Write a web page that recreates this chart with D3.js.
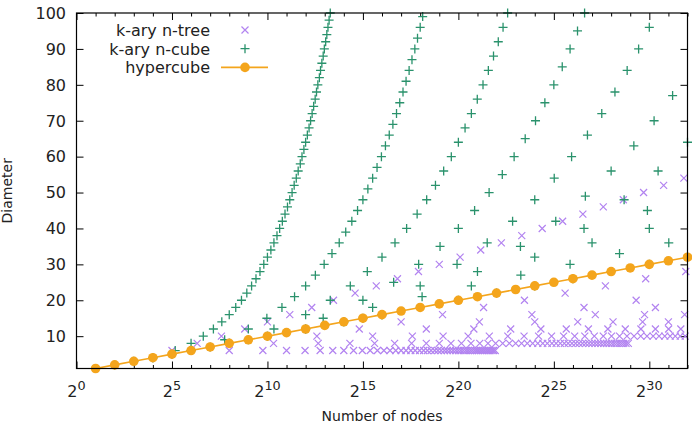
<!DOCTYPE html>
<html>
<head>
<meta charset="utf-8">
<script src="https://cdn.jsdelivr.net/npm/d3@7"></script>
<style>
  body { margin: 0; background: #fff; }
  text { font-family: "DejaVu Sans", sans-serif; fill: #222; }
</style>
</head>
<body>
<div id="canvas"></div>
<script>
// Axis ticks (x values are log2 of the node count).
const xTickExponents = [0, 5, 10, 15, 20, 25, 30];
const xMinorExponents = d3.range(0, 33);
const yTicks = [10, 20, 30, 40, 50, 60, 70, 80, 90, 100];

// k-ary n-tree: one diameter per row, log2(nodes) of every point in that row.
const treeDiameters = [6, 8, 10, 12, 14, 16, 18, 20, 22, 24, 26, 28, 30, 32, 34, 36, 38, 40, 42, 44, 46, 48, 50, 52, 54];
const treeLog2Nodes = [
  [5, 8, 9.76, 11, 11.97, 12.76, 13.42, 14, 14.51, 14.97, 15.38, 15.76, 16.10, 16.42, 16.72, 17, 17.26, 17.51, 17.74, 17.97,
   18.18, 18.38, 18.57, 18.76, 18.93, 19.10, 19.27, 19.42, 19.57, 19.72, 19.86, 20, 20.13, 20.26, 20.39, 20.51, 20.63, 20.74,
   20.86, 20.97, 21.07, 21.18, 21.28, 21.38, 21.48, 21.57, 21.66, 21.76, 21.84, 21.93],
  [6.32, 10.32, 12.66, 14.32, 15.61, 16.66, 17.55, 18.32, 19.00, 19.61, 20.16, 20.66, 21.12, 21.55, 21.95, 22.32, 22.67, 23.00,
   23.31, 23.61, 23.89, 24.16, 24.42, 24.66, 24.90, 25.12, 25.34, 25.55, 25.75, 25.95, 26.14, 26.32, 26.50, 26.67, 26.84, 27.00,
   27.16, 27.31, 27.46, 27.61, 27.75, 27.89, 28.03, 28.16, 28.29, 28.42, 28.54, 28.66, 28.78, 28.90],
  [7.59, 12.59, 15.51, 17.59, 19.20, 20.51, 21.62, 22.59, 23.44, 24.20, 24.88, 25.51, 26.09, 26.62, 27.12, 27.59, 28.02, 28.44,
   28.83, 29.20, 29.55, 29.88, 30.20, 30.51, 30.81, 31.09, 31.36, 31.62, 31.88],
  [8.81, 14.81, 18.32, 20.81, 22.74, 24.32, 25.65, 26.81, 27.83, 28.74, 29.56, 30.32, 31.01, 31.65],
  [10, 17, 21.10, 24, 26.25, 28.10, 29.65, 31],
  [11.17, 19.17, 23.85, 27.17, 29.75, 31.85],
  [12.32, 21.32, 26.58, 30.32],
  [13.46, 23.46, 29.31],
  [14.59, 25.59],
  [15.70, 27.70],
  [16.81, 29.81],
  [17.91, 31.91],
  [19], [20.09], [21.17], [22.25], [23.32], [24.39], [25.46], [26.52], [27.59], [28.64], [29.70], [30.75], [31.81]
];

// k-ary n-cube: one row per dimension, log2(nodes) and diameter of every point.
const cubeLog2Nodes = [
  [2, 4, 5.17, 6, 6.64, 7.17, 7.61, 8, 8.34, 8.64, 8.92, 9.17, 9.40, 9.61, 9.81, 10, 10.18, 10.34, 10.50, 10.64, 10.78, 10.92,
   11.05, 11.17, 11.29, 11.40, 11.51, 11.61, 11.72, 11.81, 11.91, 12, 12.09, 12.18, 12.26, 12.34, 12.42, 12.50, 12.57, 12.64,
   12.72, 12.78, 12.85, 12.92, 12.98, 13.05, 13.11, 13.17, 13.23, 13.29],
  [3, 6, 7.76, 9, 9.97, 10.76, 11.42, 12, 12.51, 12.97, 13.38, 13.76, 14.10, 14.42, 14.72, 15, 15.26, 15.51, 15.74, 15.97,
   16.18, 16.38, 16.57, 16.76, 16.93, 17.10, 17.26, 17.42, 17.57, 17.72, 17.86, 18, 18.13],
  [4, 8, 10.34, 12, 13.29, 14.34, 15.23, 16, 16.68, 17.29, 17.84, 18.34, 18.80, 19.23, 19.63, 20, 20.35, 20.68, 20.99, 21.29,
   21.57, 21.84, 22.09, 22.34, 22.58],
  [5, 10, 12.92, 15, 16.61, 17.92, 19.04, 20, 20.85, 21.61, 22.30, 22.92, 23.50, 24.04, 24.53, 25, 25.44, 25.85, 26.24, 26.61],
  [6, 12, 15.51, 18, 19.93, 21.51, 22.84, 24, 25.02, 25.93, 26.76, 27.51, 28.20, 28.84, 29.44, 30],
  [7, 14, 18.10, 21, 23.25, 25.10, 26.65, 28, 29.19, 30.25, 31.22],
  [8, 16, 20.68, 24, 26.58, 28.68, 30.46, 32],
  [9, 18, 23.27, 27, 29.90],
  [10, 20, 25.85, 30],
  [11, 22, 28.44],
  [12, 24, 31.02],
  [13, 26],
  [14, 28],
  [15, 30],
  [16, 32]
];
const cubeDiameters = [
  [2, 4, 6, 8, 10, 12, 14, 16, 18, 20, 22, 24, 26, 28, 30, 32, 34, 36, 38, 40, 42, 44, 46, 48, 50, 52, 54, 56, 58, 60, 62,
   64, 66, 68, 70, 72, 74, 76, 78, 80, 82, 84, 86, 88, 90, 92, 94, 96, 98, 100],
  [3, 6, 9, 12, 15, 18, 21, 24, 27, 30, 33, 36, 39, 42, 45, 48, 51, 54, 57, 60, 63, 66, 69, 72, 75, 78, 81, 84, 87, 90, 93,
   96, 99],
  [4, 8, 12, 16, 20, 24, 28, 32, 36, 40, 44, 48, 52, 56, 60, 64, 68, 72, 76, 80, 84, 88, 92, 96, 100],
  [5, 10, 15, 20, 25, 30, 35, 40, 45, 50, 55, 60, 65, 70, 75, 80, 85, 90, 95, 100],
  [6, 12, 18, 24, 30, 36, 42, 48, 54, 60, 66, 72, 78, 84, 90, 96],
  [7, 14, 21, 28, 35, 42, 49, 56, 63, 70, 77],
  [8, 16, 24, 32, 40, 48, 56, 64],
  [9, 18, 27, 36, 45],
  [10, 20, 30, 40],
  [11, 22, 33],
  [12, 24, 36],
  [13, 26],
  [14, 28],
  [15, 30],
  [16, 32]
];

// Hypercube: 2^n nodes, diameter n.
const hyperLog2Nodes = [1, 2, 3, 4, 5, 6, 7, 8, 9, 10, 11, 12, 13, 14, 15, 16, 17, 18, 19, 20, 21, 22, 23, 24, 25, 26, 27, 28, 29, 30, 31, 32];
const hyperDiameters = [1, 2, 3, 4, 5, 6, 7, 8, 9, 10, 11, 12, 13, 14, 15, 16, 17, 18, 19, 20, 21, 22, 23, 24, 25, 26, 27, 28, 29, 30, 31, 32];

const seriesNames = ["k-ary n-tree", "k-ary n-cube", "hypercube"];

// Dimension and color constants.
const WIDTH = 692;
const HEIGHT = 430;
const LEFT = 76.5, RIGHT = 687.5, TOP = 13, BOTTOM = 368.5;
const FONT_SIZE = 16;

const TREE_COLOR = "#b283f0";
const CUBE_COLOR = "#2a926c";
const HYPER_COLOR = "#f4a51c";

const svg = d3.select("#canvas")
              .append("svg")
              .attr("width", WIDTH)
              .attr("height", HEIGHT);

svg.append("rect").attr("width", WIDTH).attr("height", HEIGHT).attr("fill", "#fff");

const xScale = d3.scaleLinear().domain([0, 32]).range([LEFT, RIGHT]);
const yScale = d3.scaleLinear().domain([1, 100]).range([BOTTOM, TOP]);

// Ticks point inward, mirrored on top and right like gnuplot.
function tickAxis(axis, values, size, transform) {
    const g = svg.append("g")
                 .attr("transform", transform)
                 .call(axis.tickValues(values).tickSize(size).tickFormat(""));
    g.select(".domain").remove();
    g.selectAll("line").attr("stroke", "#000");
}
tickAxis(d3.axisBottom(xScale), xMinorExponents.filter(v => v % 5 !== 0), -3.5, `translate(0,${BOTTOM})`);
tickAxis(d3.axisBottom(xScale), xTickExponents, -7, `translate(0,${BOTTOM})`);
tickAxis(d3.axisTop(xScale), xMinorExponents.filter(v => v % 5 !== 0), -3.5, `translate(0,${TOP})`);
tickAxis(d3.axisTop(xScale), xTickExponents, -7, `translate(0,${TOP})`);
tickAxis(d3.axisLeft(yScale), yTicks, -7, `translate(${LEFT},0)`);
tickAxis(d3.axisRight(yScale), yTicks, -7, `translate(${RIGHT},0)`);

// Y tick labels.
svg.append("g")
   .selectAll("text")
   .data(yTicks)
   .join("text")
   .attr("x", LEFT - 10.5)
   .attr("y", d => yScale(d) + 5.8)
   .attr("text-anchor", "end")
   .attr("font-size", FONT_SIZE)
   .text(d => d);

// X tick labels as powers of two.
const xLabels = svg.append("g")
                   .selectAll("text")
                   .data(xTickExponents)
                   .join("text")
                   .attr("x", d => xScale(d))
                   .attr("y", 397)
                   .attr("text-anchor", "middle")
                   .attr("font-size", FONT_SIZE);
xLabels.append("tspan").text("2");
xLabels.append("tspan").attr("dy", -7).attr("font-size", 12.8).text(d => d);

// Axis titles.
svg.append("text")
   .attr("x", (LEFT + RIGHT) / 2)
   .attr("y", 421)
   .attr("text-anchor", "middle")
   .attr("font-size", FONT_SIZE - 2)
   .text("Number of nodes");

svg.append("text")
   .attr("transform", `translate(12,${(TOP + BOTTOM) / 2}) rotate(-90)`)
   .attr("text-anchor", "middle")
   .attr("font-size", FONT_SIZE - 2)
   .text("Diameter");

// Marker shapes.
const crossPath = "M-3.5,-3.5L3.5,3.5M-3.5,3.5L3.5,-3.5";
const plusPath = "M-4.5,0H4.5M0,-4.5V4.5";

const treePoints = treeLog2Nodes.flatMap((xs, i) => xs.map(x => ({ x: x, d: treeDiameters[i] })));
const cubePoints = cubeLog2Nodes.flatMap((xs, i) => xs.map((x, j) => ({ x: x, d: cubeDiameters[i][j] })));
const hyperPoints = hyperLog2Nodes.map((x, i) => ({ x: x, d: hyperDiameters[i] }));

svg.append("g")
   .selectAll("path")
   .data(treePoints)
   .join("path")
   .attr("d", crossPath)
   .attr("transform", p => `translate(${xScale(p.x)},${yScale(p.d)})`)
   .attr("fill", "none")
   .attr("stroke", TREE_COLOR)
   .attr("stroke-width", 1.2);

svg.append("g")
   .selectAll("path")
   .data(cubePoints)
   .join("path")
   .attr("d", plusPath)
   .attr("transform", p => `translate(${xScale(p.x)},${yScale(p.d)})`)
   .attr("fill", "none")
   .attr("stroke", CUBE_COLOR)
   .attr("stroke-width", 1.3);

const line = d3.line().x(p => xScale(p.x)).y(p => yScale(p.d));
svg.append("path")
   .datum(hyperPoints)
   .attr("d", line)
   .attr("fill", "none")
   .attr("stroke", HYPER_COLOR)
   .attr("stroke-width", 1.6);

svg.append("g")
   .selectAll("circle")
   .data(hyperPoints)
   .join("circle")
   .attr("cx", p => xScale(p.x))
   .attr("cy", p => yScale(p.d))
   .attr("r", 4.8)
   .attr("fill", HYPER_COLOR);

// Plot border.
svg.append("rect")
   .attr("x", LEFT)
   .attr("y", TOP)
   .attr("width", RIGHT - LEFT)
   .attr("height", BOTTOM - TOP)
   .attr("fill", "none")
   .attr("stroke", "#000")
   .attr("stroke-width", 1.2);

// Legend.
const legendY = [30, 48.7, 67.4];
const legend = svg.append("g");
legend.selectAll("text")
      .data(seriesNames)
      .join("text")
      .attr("x", 210)
      .attr("y", (d, i) => legendY[i] + 5.8)
      .attr("text-anchor", "end")
      .attr("font-size", FONT_SIZE)
      .text(d => d);
legend.append("path")
      .attr("d", crossPath)
      .attr("transform", `translate(245,${legendY[0]})`)
      .attr("fill", "none")
      .attr("stroke", TREE_COLOR)
      .attr("stroke-width", 1.2);
legend.append("path")
      .attr("d", plusPath)
      .attr("transform", `translate(245,${legendY[1]})`)
      .attr("fill", "none")
      .attr("stroke", CUBE_COLOR)
      .attr("stroke-width", 1.3);
legend.append("line")
      .attr("x1", 221).attr("x2", 268)
      .attr("y1", legendY[2]).attr("y2", legendY[2])
      .attr("stroke", HYPER_COLOR)
      .attr("stroke-width", 1.6);
legend.append("circle")
      .attr("cx", 245)
      .attr("cy", legendY[2])
      .attr("r", 4.8)
      .attr("fill", HYPER_COLOR);
</script>
</body>
</html>
